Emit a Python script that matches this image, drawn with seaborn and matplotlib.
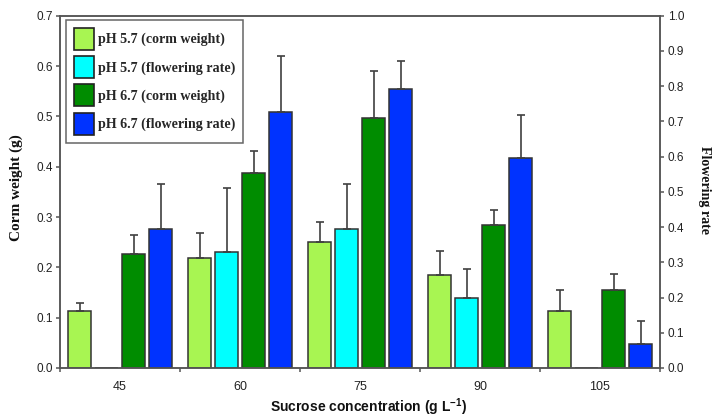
import numpy as np
import pandas as pd
import matplotlib
matplotlib.use("Agg")
import matplotlib.pyplot as plt
from matplotlib.patches import Patch
from matplotlib.ticker import FixedLocator, FormatStrFormatter
import seaborn as sns

# ---- data ----
concentrations = ["45", "60", "75", "90", "105"]
series_names = ["pH 5.7 (corm weight)", "pH 5.7 (flowering rate)",
                "pH 6.7 (corm weight)", "pH 6.7 (flowering rate)"]
cw_57 = [0.113, 0.219, 0.251, 0.184, 0.114]
cw_57_err = [0.016, 0.050, 0.040, 0.048, 0.040]
fr_57 = [0.0, 0.330, 0.395, 0.200, 0.0]
fr_57_err = [0.0, 0.180, 0.128, 0.080, 0.0]
cw_67 = [0.226, 0.388, 0.496, 0.284, 0.154]
cw_67_err = [0.038, 0.044, 0.094, 0.030, 0.032]
fr_67 = [0.395, 0.726, 0.792, 0.596, 0.067]
fr_67_err = [0.128, 0.161, 0.080, 0.121, 0.067]
colors = ["#A8F552", "#00FFFF", "#008C00", "#0033FF"]
left_ticks = [0.0, 0.1, 0.2, 0.3, 0.4, 0.5, 0.6, 0.7]
right_ticks = [0.0, 0.1, 0.2, 0.3, 0.4, 0.5, 0.6, 0.7, 0.8, 0.9, 1.0]

sns.set_style("ticks")
plt.rcParams["font.family"] = ["Liberation Sans", "DejaVu Sans"]
plt.rcParams["mathtext.fontset"] = "custom"
plt.rcParams["mathtext.rm"] = "Liberation Sans"
plt.rcParams["mathtext.bf"] = "Liberation Sans:bold"

palette = dict(zip(series_names, colors))
corm_df = pd.DataFrame({
    "conc": concentrations * 2,
    "series": [series_names[0]] * 5 + [series_names[2]] * 5,
    "value": cw_57 + cw_67,
})
flow_df = pd.DataFrame({
    "conc": concentrations * 2,
    "series": [series_names[1]] * 5 + [series_names[3]] * 5,
    "value": fr_57 + fr_67,
})
errs = {series_names[0]: cw_57_err, series_names[1]: fr_57_err,
        series_names[2]: cw_67_err, series_names[3]: fr_67_err}

fig = plt.figure(figsize=(7.12, 4.17), dpi=100)
ax1 = fig.add_axes([60 / 712, 1 - 368 / 417, 600 / 712, 352.3 / 417])
ax2 = ax1.twinx()

WIDTH = 0.9
GAP = 0.18
common = dict(x="conc", y="value", hue="series", hue_order=series_names,
              order=concentrations, palette=palette, saturation=1,
              width=WIDTH, gap=GAP, errorbar=None, legend=False,
              edgecolor="#333333", linewidth=1.1)
sns.barplot(data=corm_df, ax=ax1, **common)
sns.barplot(data=flow_df, ax=ax2, **common)

step = WIDTH / len(series_names)


def add_errors(ax):
    for p in ax.patches:
        xc = p.get_x() + p.get_width() / 2
        ci = int(round(xc))
        hi = int(round((xc - ci) / step + (len(series_names) - 1) / 2))
        e = errs[series_names[hi]][ci]
        h = p.get_height()
        if e <= 0:
            continue
        ax.errorbar([xc], [h], yerr=[[0], [e]], fmt="none", ecolor="#404040",
                    elinewidth=1.2, capsize=3, capthick=1.2, zorder=1)


add_errors(ax1)
add_errors(ax2)

ax1.set_xlim(-0.5, 4.5)
ax1.set_ylim(0, 0.7)
ax2.set_ylim(0, 1.0)

spine_c = "#555555"
for ax in (ax1, ax2):
    for s in ax.spines.values():
        s.set_color(spine_c)
        s.set_linewidth(1.1)
        s.set_visible(True)

ax1.set_yticks(left_ticks)
ax1.yaxis.set_major_formatter(FormatStrFormatter("%.1f"))
ax2.set_yticks(right_ticks)
ax2.yaxis.set_major_formatter(FormatStrFormatter("%.1f"))

ax1.set_xticks(range(len(concentrations)))
ax1.set_xticklabels(concentrations)
ax1.xaxis.set_minor_locator(FixedLocator(np.arange(-0.5, len(concentrations), 1.0)))
ax1.tick_params(axis="x", which="major", length=0, pad=9, labelsize=9,
                labelcolor="#222222")
ax1.tick_params(axis="x", which="minor", length=3, width=1.1, color=spine_c,
                direction="out")
ax1.tick_params(axis="y", length=3, width=1.1, color=spine_c, pad=2,
                labelsize=8.5, labelcolor="#222222")
ax2.tick_params(axis="y", length=3, width=1.1, color=spine_c, pad=2.5,
                labelsize=8.5, labelcolor="#222222")

ax1.set_xlabel("")
ax1.set_ylabel("")
ax2.set_ylabel("")

fig.text(369 / 712, 1 - 407 / 417, r"Sucrose concentration (g L$^{\mathbf{-1}}$)",
         ha="center", va="center", fontsize=10, fontweight="bold",
         color="#111111")
fig.text(16 / 712, 1 - 188 / 417, "Corm weight (g)", rotation=90,
         ha="center", va="center", fontsize=11, fontweight="bold",
         family=["Liberation Serif", "DejaVu Serif"], color="#111111")
fig.text(704.5 / 712, 1 - 190.5 / 417, "Flowering rate", rotation=270,
         ha="center", va="center", fontsize=10, fontweight="bold",
         family=["Liberation Serif", "DejaVu Serif"], color="#111111")

handles = [Patch(facecolor=c, edgecolor="#222222", linewidth=1.2) for c in colors]
leg = ax2.legend(handles, series_names, loc="upper left",
                 bbox_to_anchor=(66 / 712, 1 - 19.7 / 417),
                 bbox_transform=fig.transFigure, borderaxespad=0,
                 prop={"family": "Liberation Serif", "weight": "bold", "size": 10.1},
                 handlelength=1.4, handleheight=2.03, handletextpad=0.3,
                 labelspacing=0.45, borderpad=0.58, fancybox=False,
                 framealpha=1, edgecolor="#666666")
leg.get_frame().set_linewidth(1.1)

fig.savefig("out.png", dpi=100)
